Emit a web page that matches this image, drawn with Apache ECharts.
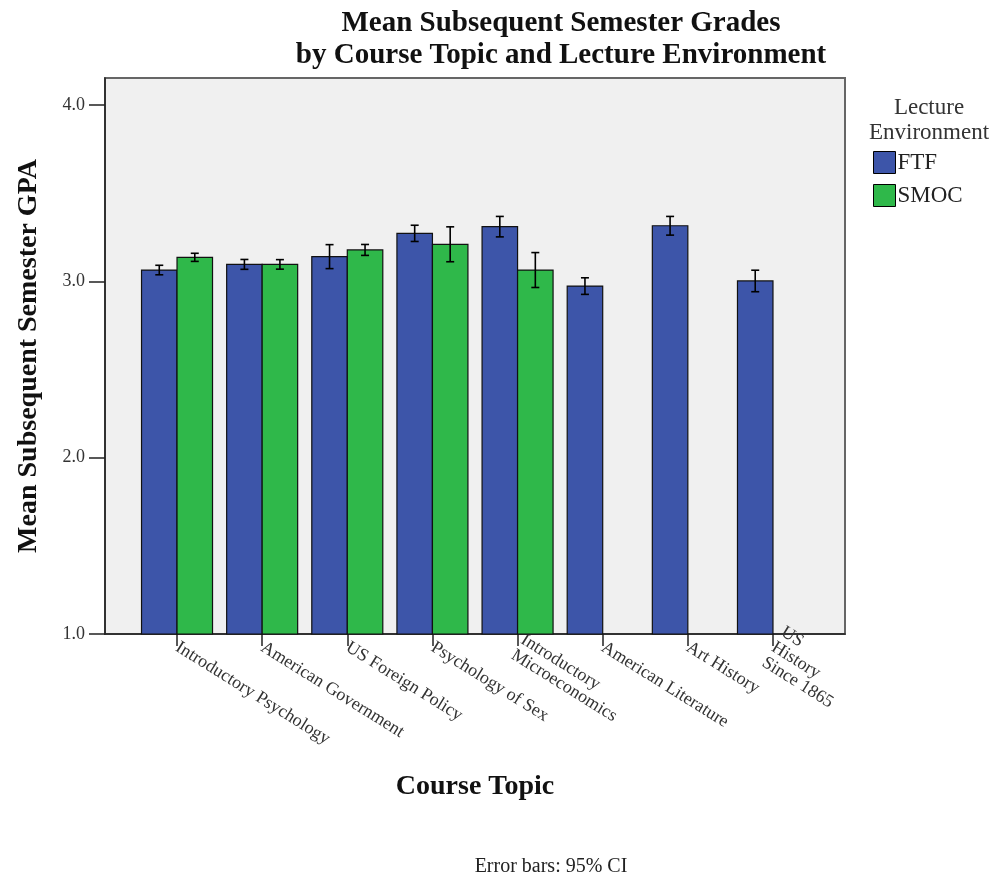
<!DOCTYPE html>
<html>
<head>
<meta charset="utf-8">
<script src="https://cdn.jsdelivr.net/npm/echarts@6/dist/echarts.min.js"></script>
<style>
  html, body { margin: 0; padding: 0; background: #fff; }
  #main { width: 992px; height: 882px; }
</style>
</head>
<body>
<div id="main"></div>
<script>
// course topics (x axis)
const categories = [
  'Introductory Psychology',
  'American Government',
  'US Foreign Policy',
  'Psychology of Sex',
  'Introductory\nMicroeconomics',
  'American Literature',
  'Art History',
  'US\nHistory\nSince 1865'
];
// mean GPA and half width of 95% CI
const ftfMean = [3.064, 3.096, 3.14, 3.272, 3.31, 2.973, 3.315, 3.002];
const ftfCI   = [0.027, 0.028, 0.068, 0.046, 0.058, 0.047, 0.053, 0.061];
const smocMean = [3.136, 3.096, 3.178, 3.21, 3.064, null, null, null];
const smocCI   = [0.023, 0.027, 0.031, 0.099, 0.099, null, null, null];
const yTicks = [1, 2, 3, 4];

const serif = 'Liberation Serif';
const barW = 0.417;   // bar width in axis units
const yMin = 1;

function toData(mean, ci) {
  const out = [];
  mean.forEach(function (m, i) {
    if (m != null) out.push([i + 1, m, ci[i]]);
  });
  return out;
}

function barRender(side, color) {
  return function (params, api) {
    const c = api.value(0), m = api.value(1), ci = api.value(2);
    const x0 = side < 0 ? c - barW : c;
    const p0 = api.coord([x0, m]);
    const p1 = api.coord([x0 + barW, yMin]);
    const hi = api.coord([x0 + barW / 2, m + ci]);
    const lo = api.coord([x0 + barW / 2, m - ci]);
    const cap = 4;
    const lineStyle = { stroke: '#000', lineWidth: 1.6 };
    return {
      type: 'group',
      children: [
        {
          type: 'rect',
          shape: { x: p0[0], y: p0[1], width: p1[0] - p0[0], height: p1[1] - p0[1] },
          style: { fill: color, stroke: '#111', lineWidth: 1.2 }
        },
        { type: 'line', shape: { x1: hi[0], y1: hi[1], x2: lo[0], y2: lo[1] }, style: lineStyle },
        { type: 'line', shape: { x1: hi[0] - cap, y1: hi[1], x2: hi[0] + cap, y2: hi[1] }, style: lineStyle },
        { type: 'line', shape: { x1: lo[0] - cap, y1: lo[1], x2: lo[0] + cap, y2: lo[1] }, style: lineStyle }
      ]
    };
  };
}

const ftfColor = '#3d55a9';
const smocColor = '#2fb84a';

const chart = echarts.init(document.getElementById('main'));
chart.setOption({
  animation: false,
  textStyle: { fontFamily: serif },
  title: [
    {
      text: 'Mean Subsequent Semester Grades\nby Course Topic and Lecture Environment',
      left: 556, top: 3, textAlign: 'center',
      textStyle: { fontFamily: serif, fontWeight: 'bold', fontSize: 29, lineHeight: 32, color: '#111' }
    },
    {
      text: 'Lecture\nEnvironment',
      left: 924, top: 90, textAlign: 'center',
      textStyle: { fontFamily: serif, fontWeight: 'normal', fontSize: 23, lineHeight: 25, color: '#333' }
    },
    {
      text: 'Error bars: 95% CI',
      left: 546, top: 852, textAlign: 'center',
      textStyle: { fontFamily: serif, fontWeight: 'normal', fontSize: 20, color: '#222' }
    }
  ],
  legend: {
    orient: 'vertical',
    left: 868, top: 146,
    itemWidth: 22, itemHeight: 22, itemGap: 10,
    icon: 'rect',
    itemStyle: { borderColor: '#000', borderWidth: 1 },
    textStyle: { fontFamily: serif, fontSize: 23, color: '#222', padding: [0, 0, 0, -3] },
    data: ['FTF', 'SMOC']
  },
  grid: {
    left: 105, right: 147, top: 78, bottom: 248,
    show: true, backgroundColor: '#f0f0f0', borderColor: '#666', borderWidth: 2
  },
  xAxis: {
    type: 'value',
    min: 0.154, max: 8.846,
    name: 'Course Topic',
    nameLocation: 'middle', nameGap: 139,
    nameTextStyle: { fontFamily: serif, fontWeight: 'bold', fontSize: 28, color: '#111' },
    splitLine: { show: false },
    axisLine: { show: true, lineStyle: { color: '#222', width: 1.5 } },
    axisTick: { show: true, length: 12, customValues: [1, 2, 3, 4, 5, 6, 7, 8], lineStyle: { color: '#222', width: 1.5 } },
    axisLabel: {
      customValues: [1, 2, 3, 4, 5, 6, 7, 8],
      formatter: function (v) { return categories[Math.round(v) - 1]; },
      rotate: -32, margin: 12,
      fontFamily: serif, fontSize: 18, lineHeight: 18, color: '#333'
    }
  },
  yAxis: {
    type: 'value',
    min: yMin, max: 4.153,
    name: 'Mean Subsequent Semester GPA',
    nameLocation: 'middle', nameGap: 62,
    nameTextStyle: { fontFamily: serif, fontWeight: 'bold', fontSize: 28, color: '#111' },
    splitLine: { show: false },
    axisLine: { show: true, lineStyle: { color: '#222', width: 1.5 } },
    axisTick: { show: true, length: 16, customValues: yTicks, lineStyle: { color: '#222', width: 1.5 } },
    axisLabel: {
      customValues: yTicks,
      formatter: function (v) { return v.toFixed(1); },
      margin: 20, fontFamily: serif, fontSize: 18, color: '#333'
    }
  },
  series: [
    {
      name: 'FTF', type: 'custom',
      itemStyle: { color: ftfColor, borderColor: '#000', borderWidth: 1 },
      renderItem: barRender(-1, ftfColor),
      encode: { x: 0, y: 1 },
      data: toData(ftfMean, ftfCI)
    },
    {
      name: 'SMOC', type: 'custom',
      itemStyle: { color: smocColor, borderColor: '#000', borderWidth: 1 },
      renderItem: barRender(1, smocColor),
      encode: { x: 0, y: 1 },
      data: toData(smocMean, smocCI)
    }
  ]
});
</script>
</body>
</html>
